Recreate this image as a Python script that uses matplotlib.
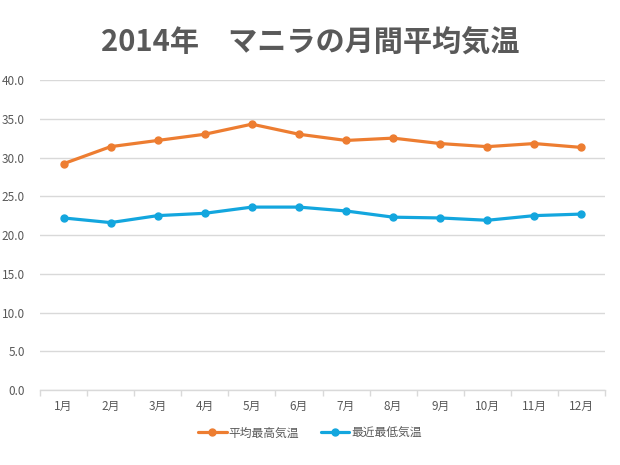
import matplotlib
matplotlib.use("Agg")
import matplotlib.pyplot as plt
import numpy as np

plt.rcParams['font.family'] = ['Noto Sans CJK JP', 'DejaVu Sans']

months = ["1月", "2月", "3月", "4月", "5月", "6月", "7月", "8月", "9月", "10月", "11月", "12月"]
high_temp = [29.2, 31.4, 32.2, 33.0, 34.3, 33.0, 32.2, 32.5, 31.8, 31.4, 31.8, 31.3]
low_temp = [22.2, 21.6, 22.5, 22.8, 23.6, 23.6, 23.1, 22.3, 22.2, 21.9, 22.5, 22.7]
y_ticks = [0, 5, 10, 15, 20, 25, 30, 35, 40]

title = "2014年\u3000マニラの月間平均気温"
label_high = "平均最高気温"
label_low = "最近最低気温"

orange = "#ED7D31"
blue = "#13A6DE"
txt = "#595959"
grid = "#D9D9D9"

fig = plt.figure(figsize=(6.2, 4.65), dpi=100)
ax = fig.add_axes([40/620, 1-390/465, 565/620, 310/465])

x = np.arange(len(months))
ax.plot(x, high_temp, color=orange, lw=2.3, marker='o', ms=5, label=label_high, solid_capstyle='round')
ax.plot(x, low_temp, color=blue, lw=2.3, marker='o', ms=5, label=label_low, solid_capstyle='round')

ax.set_xlim(-0.5, len(months) - 0.5)
ax.set_ylim(0, 40)
ax.set_yticks(y_ticks)
ax.set_yticklabels([f"{v:.1f}" for v in y_ticks], color=txt, fontsize=8.5)
ax.set_xticks(x)
ax.set_xticklabels(months, color=txt, fontsize=8.5)
ax.set_xticks(np.arange(-0.5, len(months), 1), minor=True)
ax.tick_params(axis='x', which='major', length=0, pad=7)
ax.tick_params(axis='x', which='minor', length=4, color=grid, width=1)
ax.tick_params(axis='y', length=0, pad=11)

ax.grid(axis='y', color=grid, lw=1)
ax.set_axisbelow(True)
for s in ['top', 'right', 'left']:
    ax.spines[s].set_visible(False)
ax.spines['bottom'].set_color(grid)
ax.spines['bottom'].set_linewidth(1)

fig.text(310/620, 1-43/465, title, ha='center', va='center', fontsize=21, fontweight='bold', color=txt)

leg = fig.legend(loc='center', bbox_to_anchor=(310/620, 1-433/465), ncol=2, frameon=False,
                 fontsize=8.5, handlelength=2.4, columnspacing=1.8, handletextpad=0.2)
for t in leg.get_texts():
    t.set_color(txt)

fig.savefig("out.png", dpi=100)
